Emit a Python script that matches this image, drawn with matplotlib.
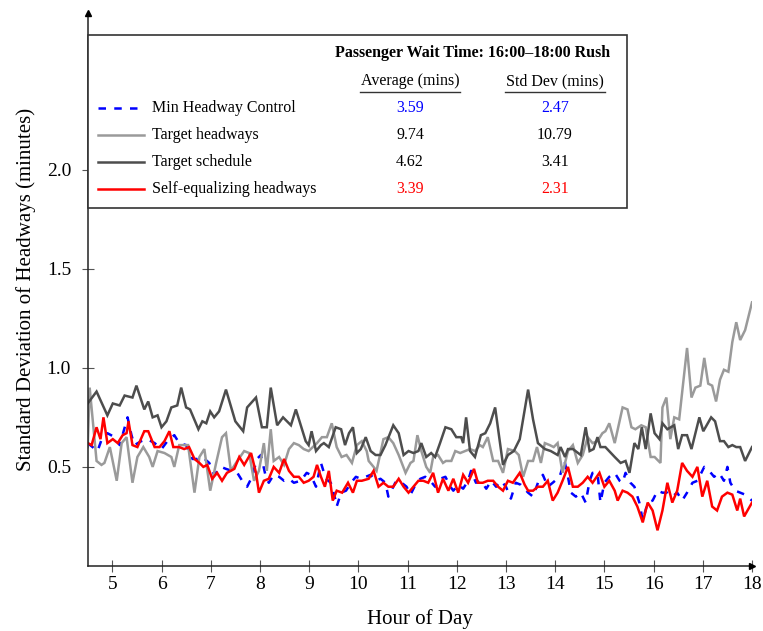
import matplotlib
matplotlib.use('Agg')
import matplotlib.pyplot as plt
from matplotlib.patches import Rectangle
from matplotlib.lines import Line2D

plt.rcParams['font.family'] = ['Liberation Serif', 'DejaVu Serif']

# ---------------- data ----------------
minhw_hours = [4.50,4.60,4.70,4.80,4.90,5.05,5.15,5.31,5.39,5.45,
               5.59,5.71,5.86,6.00,6.12,6.26,6.36,6.50,6.63,6.73,
               6.83,6.97,7.07,7.21,7.31,7.43,7.54,7.64,7.74,7.84,
               7.94,8.02,8.12,8.18,8.28,8.39,8.49,8.59,8.69,8.83,
               8.95,9.03,9.14,9.24,9.34,9.44,9.54,9.56,9.65,9.75,
               9.85,9.95,10.05,10.15,10.25,10.35,10.45,10.55,10.61,10.67,
               10.77,10.88,10.98,11.06,11.16,11.26,11.36,11.46,11.56,11.66,
               11.77,11.87,11.93,12.03,12.13,12.23,12.29,12.39,12.49,12.60,
               12.70,12.80,12.90,13.00,13.10,13.20,13.30,13.45,13.55,13.65,
               13.75,13.85,13.95,14.09,14.19,14.26,14.32,14.42,14.52,14.62,
               14.70,14.76,14.86,14.92,15.00,15.10,15.21,15.31,15.37,15.43,
               15.53,15.61,15.71,15.78,15.88,15.98,16.08,16.18,16.28,16.38,
               16.48,16.58,16.68,16.79,16.89,17.03,17.13,17.23,17.33,17.43,
               17.50,17.56,17.66,17.76,17.86,18.00]
minhw_vals = [0.62,0.60,0.58,0.65,0.67,0.65,0.61,0.75,0.66,0.61,
              0.63,0.64,0.62,0.59,0.63,0.66,0.62,0.61,0.54,0.54,
              0.55,0.52,0.46,0.50,0.49,0.48,0.47,0.43,0.40,0.45,
              0.54,0.56,0.45,0.42,0.46,0.45,0.43,0.44,0.42,0.43,
              0.47,0.46,0.40,0.52,0.44,0.42,0.33,0.30,0.37,0.38,
              0.42,0.45,0.44,0.45,0.46,0.43,0.44,0.42,0.35,0.38,
              0.43,0.42,0.40,0.36,0.41,0.44,0.45,0.43,0.40,0.44,
              0.45,0.40,0.38,0.41,0.39,0.43,0.48,0.42,0.43,0.39,
              0.43,0.40,0.43,0.40,0.34,0.42,0.41,0.37,0.35,0.42,
              0.46,0.40,0.42,0.45,0.53,0.45,0.37,0.35,0.37,0.32,
              0.43,0.47,0.47,0.32,0.42,0.45,0.47,0.43,0.42,0.47,
              0.42,0.40,0.32,0.23,0.32,0.33,0.38,0.37,0.37,0.35,
              0.37,0.33,0.37,0.42,0.43,0.50,0.48,0.45,0.47,0.43,
              0.50,0.42,0.38,0.37,0.36,0.33]

headways_hours = [4.50,4.54,4.68,4.78,4.84,4.95,5.09,5.19,5.29,5.41,
                  5.51,5.63,5.75,5.82,5.92,6.06,6.20,6.26,6.36,6.46,
                  6.54,6.67,6.77,6.87,6.99,7.11,7.23,7.31,7.41,7.54,
                  7.68,7.78,7.88,7.98,8.08,8.14,8.22,8.28,8.39,8.49,
                  8.59,8.69,8.79,8.89,8.99,9.16,9.26,9.36,9.46,9.56,
                  9.66,9.76,9.87,9.97,10.07,10.17,10.21,10.31,10.37,10.51,
                  10.61,10.71,10.82,10.96,11.06,11.12,11.20,11.28,11.38,11.46,
                  11.52,11.62,11.72,11.78,11.89,11.97,12.07,12.17,12.27,12.37,
                  12.47,12.53,12.63,12.74,12.84,12.94,13.04,13.18,13.26,13.35,
                  13.45,13.55,13.63,13.71,13.79,13.89,13.97,14.05,14.15,14.26,
                  14.36,14.46,14.56,14.66,14.76,14.86,14.96,15.02,15.10,15.21,
                  15.37,15.47,15.55,15.63,15.75,15.84,15.94,16.02,16.14,16.18,
                  16.26,16.34,16.42,16.52,16.60,16.68,16.77,16.85,16.95,17.03,
                  17.11,17.19,17.27,17.35,17.43,17.52,17.60,17.68,17.76,17.86,
                  18.00]
headways_vals = [0.60,0.90,0.53,0.51,0.52,0.60,0.43,0.62,0.65,0.42,
                 0.55,0.60,0.55,0.50,0.58,0.57,0.55,0.50,0.61,0.61,
                 0.61,0.37,0.55,0.59,0.38,0.52,0.65,0.67,0.48,0.53,
                 0.58,0.57,0.43,0.48,0.62,0.48,0.69,0.53,0.55,0.51,
                 0.59,0.62,0.61,0.59,0.58,0.62,0.65,0.65,0.72,0.60,
                 0.55,0.56,0.52,0.61,0.63,0.58,0.53,0.50,0.48,0.64,
                 0.65,0.62,0.56,0.47,0.52,0.53,0.66,0.58,0.50,0.47,
                 0.55,0.56,0.52,0.53,0.53,0.58,0.57,0.58,0.59,0.58,
                 0.61,0.60,0.65,0.53,0.53,0.47,0.59,0.58,0.56,0.45,
                 0.53,0.53,0.60,0.52,0.62,0.61,0.60,0.62,0.47,0.58,
                 0.61,0.52,0.56,0.65,0.62,0.63,0.67,0.68,0.72,0.62,
                 0.80,0.79,0.70,0.69,0.71,0.70,0.55,0.55,0.52,0.80,
                 0.85,0.64,0.75,0.74,0.92,1.10,0.85,0.90,0.91,1.05,
                 0.92,0.91,0.83,0.94,0.99,0.98,1.13,1.23,1.14,1.19,
                 1.33]

schedule_hours = [4.50,4.68,4.90,5.01,5.15,5.25,5.41,5.49,5.65,5.73,
                  5.82,5.92,6.00,6.10,6.20,6.32,6.40,6.50,6.58,6.75,
                  6.83,6.91,6.99,7.07,7.17,7.31,7.50,7.66,7.74,7.92,
                  8.04,8.14,8.22,8.35,8.47,8.63,8.73,8.93,8.99,9.05,
                  9.14,9.24,9.30,9.40,9.54,9.65,9.73,9.81,9.89,9.97,
                  10.05,10.15,10.25,10.35,10.45,10.55,10.71,10.82,10.92,11.02,
                  11.12,11.22,11.28,11.38,11.48,11.56,11.66,11.77,11.89,11.99,
                  12.09,12.13,12.19,12.27,12.37,12.49,12.58,12.68,12.78,12.94,
                  13.04,13.16,13.28,13.45,13.55,13.65,13.79,13.91,14.05,14.11,
                  14.20,14.26,14.36,14.52,14.62,14.70,14.78,14.86,14.92,15.02,
                  15.21,15.33,15.43,15.51,15.61,15.69,15.76,15.84,15.94,16.02,
                  16.12,16.18,16.28,16.42,16.50,16.58,16.68,16.77,16.93,17.01,
                  17.17,17.25,17.35,17.43,17.52,17.60,17.68,17.76,17.86,18.00]
schedule_vals = [0.82,0.88,0.76,0.82,0.81,0.86,0.85,0.91,0.79,0.83,
                 0.75,0.76,0.70,0.73,0.80,0.81,0.90,0.80,0.79,0.69,
                 0.73,0.72,0.78,0.75,0.78,0.89,0.73,0.68,0.80,0.85,
                 0.70,0.70,0.90,0.71,0.75,0.71,0.79,0.63,0.61,0.68,
                 0.58,0.61,0.62,0.60,0.70,0.69,0.61,0.67,0.70,0.57,
                 0.59,0.65,0.58,0.56,0.56,0.61,0.71,0.67,0.56,0.58,
                 0.57,0.58,0.62,0.55,0.57,0.55,0.62,0.70,0.69,0.65,
                 0.65,0.62,0.75,0.58,0.55,0.66,0.67,0.72,0.80,0.51,
                 0.56,0.58,0.64,0.89,0.74,0.62,0.59,0.58,0.56,0.60,
                 0.55,0.59,0.59,0.56,0.70,0.58,0.59,0.65,0.60,0.60,
                 0.55,0.52,0.53,0.47,0.62,0.59,0.70,0.59,0.77,0.67,
                 0.64,0.72,0.69,0.71,0.59,0.66,0.66,0.59,0.75,0.68,
                 0.75,0.73,0.63,0.63,0.60,0.61,0.60,0.60,0.53,0.60]

selfeq_hours = [4.50,4.58,4.68,4.76,4.82,4.90,5.01,5.11,5.21,5.29,
                5.33,5.41,5.51,5.65,5.73,5.86,5.96,6.06,6.16,6.24,
                6.36,6.46,6.56,6.67,6.77,6.85,6.93,7.03,7.13,7.23,
                7.33,7.48,7.58,7.68,7.82,7.92,7.98,8.08,8.18,8.28,
                8.39,8.49,8.59,8.69,8.79,8.89,8.99,9.09,9.16,9.24,
                9.32,9.40,9.48,9.56,9.67,9.79,9.89,9.97,10.07,10.21,
                10.31,10.41,10.51,10.61,10.71,10.82,10.92,11.02,11.12,11.22,
                11.32,11.42,11.52,11.62,11.72,11.83,11.93,12.03,12.13,12.23,
                12.35,12.43,12.53,12.63,12.74,12.84,12.94,13.04,13.14,13.28,
                13.38,13.45,13.55,13.65,13.75,13.85,13.95,14.05,14.15,14.26,
                14.36,14.46,14.56,14.66,14.76,14.90,15.00,15.10,15.21,15.27,
                15.37,15.47,15.57,15.67,15.78,15.88,15.98,16.08,16.18,16.28,
                16.38,16.48,16.58,16.68,16.79,16.89,16.99,17.09,17.19,17.29,
                17.39,17.50,17.60,17.70,17.76,17.84,18.00]
selfeq_vals = [0.62,0.61,0.70,0.64,0.75,0.62,0.64,0.62,0.66,0.67,
               0.73,0.61,0.60,0.68,0.68,0.60,0.60,0.63,0.68,0.60,
               0.60,0.59,0.60,0.54,0.52,0.50,0.51,0.44,0.47,0.43,
               0.47,0.49,0.55,0.51,0.57,0.47,0.37,0.43,0.44,0.50,
               0.47,0.54,0.48,0.45,0.45,0.42,0.43,0.45,0.51,0.45,
               0.40,0.48,0.33,0.38,0.37,0.42,0.37,0.43,0.43,0.44,
               0.48,0.40,0.42,0.40,0.40,0.44,0.40,0.37,0.40,0.43,
               0.43,0.42,0.47,0.37,0.44,0.38,0.44,0.37,0.46,0.42,
               0.49,0.42,0.42,0.43,0.43,0.40,0.38,0.43,0.42,0.47,
               0.41,0.38,0.38,0.40,0.40,0.43,0.33,0.37,0.43,0.50,
               0.40,0.40,0.42,0.45,0.42,0.47,0.40,0.43,0.38,0.33,
               0.38,0.37,0.35,0.30,0.22,0.32,0.28,0.18,0.28,0.42,
               0.32,0.38,0.52,0.48,0.45,0.50,0.35,0.43,0.30,0.28,
               0.35,0.37,0.36,0.28,0.34,0.25,0.32]

series_names = ['Min Headway Control', 'Target headways', 'Target schedule',
                'Self-equalizing headways']
table_title = 'Passenger Wait Time: 16:00\u201318:00 Rush'
table_cols = ['Average (mins)', 'Std Dev (mins)']
table_avg = ['3.59', '9.74', '4.62', '3.39']
table_std = ['2.47', '10.79', '3.41', '2.31']
x_ticks = [5, 6, 7, 8, 9, 10, 11, 12, 13, 14, 15, 16, 17, 18]
y_ticks = [0.5, 1.0, 1.5, 2.0]
y_tick_labels = ['0.5', '1.0', '1.5', '2.0']

# ---------------- styles ----------------
W, H = 763, 631
colors = ['#0000ff', '#9a9a9a', '#4d4d4d', '#ff0000']
lw = 1.8
styles = [dict(linestyle=(0, (3, 3.3))), dict(linestyle='-'),
          dict(linestyle='-'), dict(linestyle='-')]
value_colors = ['#0000ff', 'black', 'black', '#ff0000']

fig = plt.figure(figsize=(W / 100, H / 100), dpi=100)
ax = fig.add_axes([87.7 / W, 1 - 566 / H, (752 - 87.7) / W, (566 - 13) / H])

data = [(minhw_hours, minhw_vals), (headways_hours, headways_vals),
        (schedule_hours, schedule_vals), (selfeq_hours, selfeq_vals)]
for (xs, ys), c, st in zip(data, colors, styles):
    ax.plot(xs, ys, color=c, lw=lw, solid_joinstyle='miter', **st)

ax.set_xlim(4.5, 18.0)
ax.set_ylim(0.0, 2.79)
ax.set_xticks(x_ticks)
ax.set_xticklabels([str(t) for t in x_ticks])
ax.set_yticks(y_ticks)
ax.set_yticklabels(y_tick_labels)
for s in ['top', 'right']:
    ax.spines[s].set_visible(False)
for s in ['left', 'bottom']:
    ax.spines[s].set_color('#222222')
    ax.spines[s].set_linewidth(1.1)
ax.tick_params(axis='both', direction='inout', length=8, width=0.8,
               color='#555555', labelsize=14)
ax.tick_params(axis='x', pad=3)
ax.tick_params(axis='y', pad=8)
ax.set_xlabel('Hour of Day', fontsize=15, labelpad=12)
ax.set_ylabel('Standard Deviation of Headways (minutes)', fontsize=15, labelpad=8)

# arrow heads on axis ends
ax.plot([1], [0], marker='>', ms=5, color='black', transform=ax.transAxes,
        clip_on=False, zorder=5)
ax.plot([0], [1], marker='^', ms=5, color='black', transform=ax.transAxes,
        clip_on=False, zorder=5)

# ---------------- table legend ----------------
def fx(x):
    return x / W

def fy(y):
    return 1 - y / H

box = Rectangle((fx(88), fy(208)), (627 - 88) / W, (208 - 35) / H,
                transform=fig.transFigure, facecolor='white',
                edgecolor='#333333', lw=1.2, zorder=10)
fig.add_artist(box)

fs = 11.5
fig.text(fx(473), fy(53), table_title, ha='center', va='center',
         fontsize=fs, fontweight='bold', zorder=11)
col_x = [410, 555]
for cx, name in zip(col_x, table_cols):
    fig.text(fx(cx), fy(81), name, ha='center', va='center', fontsize=fs, zorder=11)
    fig.add_artist(Line2D([fx(cx - 50), fx(cx + 50)], [fy(92), fy(92)],
                          transform=fig.transFigure, color='#333333', lw=1.0,
                          zorder=11))

row_y = [108, 135, 162, 189]
for i, ry in enumerate(row_y):
    fig.add_artist(Line2D([fx(98), fx(144)], [fy(ry), fy(ry)],
                          transform=fig.transFigure, color=colors[i], lw=lw,
                          zorder=11, **styles[i]))
    fig.text(fx(152), fy(ry), series_names[i], ha='left', va='center',
             fontsize=fs, zorder=11)
    fig.text(fx(col_x[0]), fy(ry), table_avg[i], ha='center', va='center',
             fontsize=fs, color=value_colors[i], zorder=11)
    fig.text(fx(col_x[1]), fy(ry), table_std[i], ha='center', va='center',
             fontsize=fs, color=value_colors[i], zorder=11)

fig.savefig('out.png', dpi=100)
